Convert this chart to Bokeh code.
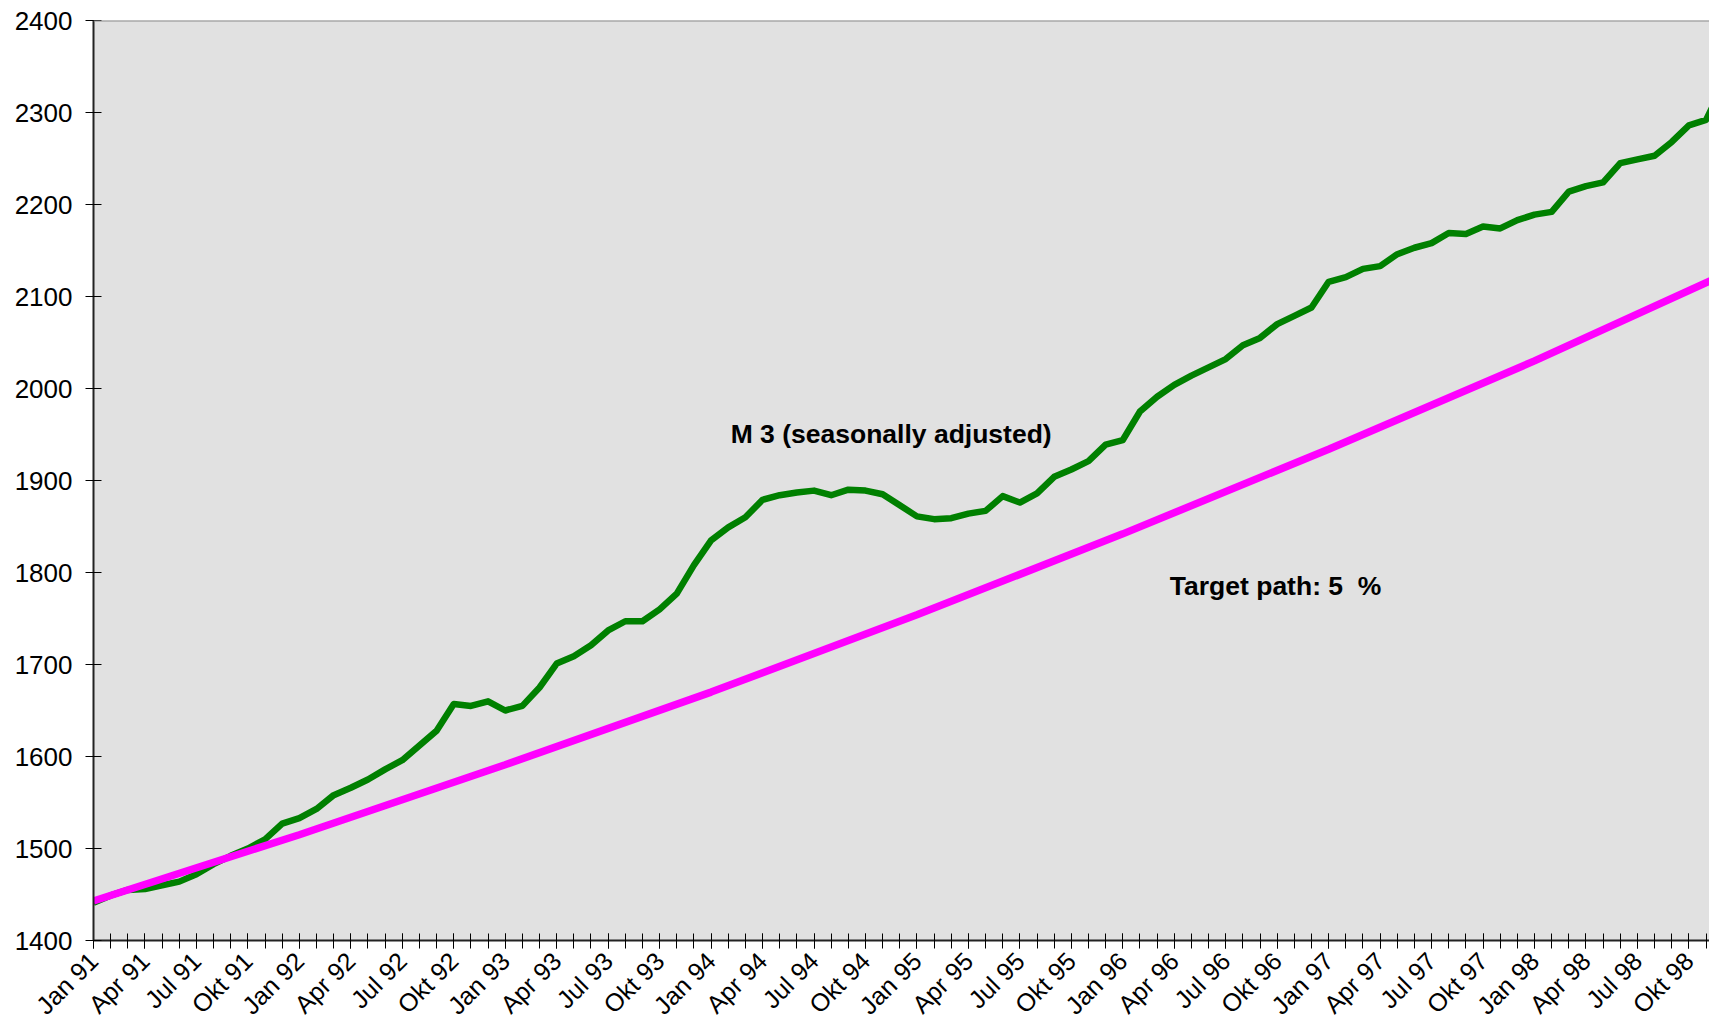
import math
from bokeh.plotting import figure
from bokeh.models import Range1d, FixedTicker, Span, Label
from bokeh.embed import file_html
from bokeh.resources import INLINE

# ---- data ----
# month index: 0 = Jan 91, 1 = Feb 91, ...
months = list(range(96))
m3 = [1441, 1449, 1455, 1456, 1460, 1464, 1472, 1483, 1492, 1500, 1510, 1527,   # 1991
      1533, 1543, 1558, 1566, 1575, 1586, 1596, 1612, 1628, 1657, 1655, 1660,   # 1992
      1650, 1655, 1675, 1701, 1709, 1721, 1737, 1747, 1747, 1760, 1777, 1808,   # 1993
      1835, 1849, 1860, 1879, 1884, 1887, 1889, 1884, 1890, 1889, 1885, 1873,   # 1994
      1861, 1858, 1859, 1864, 1867, 1883, 1876, 1886, 1904, 1912, 1921, 1939,   # 1995
      1944, 1975, 1991, 2004, 2014, 2023, 2032, 2047, 2055, 2070, 2079, 2088,   # 1996
      2116, 2121, 2130, 2133, 2146, 2153, 2158, 2169, 2168, 2176, 2174, 2183,   # 1997
      2189, 2192, 2214, 2220, 2224, 2245, 2249, 2253, 2268, 2286, 2292, 2330]   # 1998

target_months = [0, 12, 24, 36, 48, 60, 72, 84, 96]
target = [1443, 1515, 1591, 1670, 1754, 1842, 1934, 2030, 2132]

quarter_ticks = list(range(0, 96, 3))
quarter_names = ["Jan", "Apr", "Jul", "Okt"]
years = ["91", "92", "93", "94", "95", "96", "97", "98"]
quarter_labels = [f"{q} {y}" for y in years for q in quarter_names]

y_ticks = [1400, 1500, 1600, 1700, 1800, 1900, 2000, 2100, 2200, 2300, 2400]

FONT = "Liberation Sans"

p = figure(width=1709, height=1032, output_backend="svg", toolbar_location=None,
           x_range=Range1d(0, 94.2), y_range=Range1d(1400, 2400),
           min_border_left=93, min_border_right=0, min_border_top=20, min_border_bottom=92,
           background_fill_color="#E1E1E1", border_fill_color="white",
           outline_line_color=None)
p.grid.visible = False

p.line(months, m3, line_color="#008000", line_width=6.5, line_join="round")
p.line(target_months, target, line_color="#FF00FF", line_width=7.5)

# top border
p.add_layout(Span(location=2400, dimension="width", line_color="#8C8C8C", line_width=2))

# y axis
ya = p.yaxis[0]
ya.ticker = FixedTicker(ticks=y_ticks)
ya.axis_line_color = "#222222"
ya.axis_line_width = 2
ya.major_tick_in = 8
ya.major_tick_out = 8
ya.major_tick_line_color = "black"
ya.minor_tick_line_color = None
ya.major_label_text_font = FONT
ya.major_label_text_font_size = "26px"
ya.major_label_text_color = "black"
ya.major_label_standoff = 13

# x axis: monthly ticks, quarterly rotated labels
xa = p.xaxis[0]
xa.ticker = FixedTicker(ticks=quarter_ticks, minor_ticks=months)
xa.major_label_overrides = {t: l for t, l in zip(quarter_ticks, quarter_labels)}
xa.axis_line_color = "#222222"
xa.axis_line_width = 2
xa.major_tick_in = 7
xa.major_tick_out = 8
xa.minor_tick_in = 7
xa.minor_tick_out = 8
xa.major_tick_line_color = "black"
xa.minor_tick_line_color = "black"
xa.major_label_orientation = math.pi / 4
xa.major_label_text_font = FONT
xa.major_label_text_font_size = "25px"
xa.major_label_text_color = "black"
xa.major_label_standoff = 8

p.add_layout(Label(x=37.14, y=1951, text="M 3 (seasonally adjusted)", text_font=FONT,
                   text_font_style="bold", text_font_size="26.5px", text_color="black",
                   text_baseline="middle", text_align="left"))
p.add_layout(Label(x=62.74, y=1785, text="Target path: 5\u00a0 %", text_font=FONT,
                   text_font_style="bold", text_font_size="26.5px", text_color="black",
                   text_baseline="middle", text_align="left"))

open("out.html", "w").write(file_html(p, INLINE))
